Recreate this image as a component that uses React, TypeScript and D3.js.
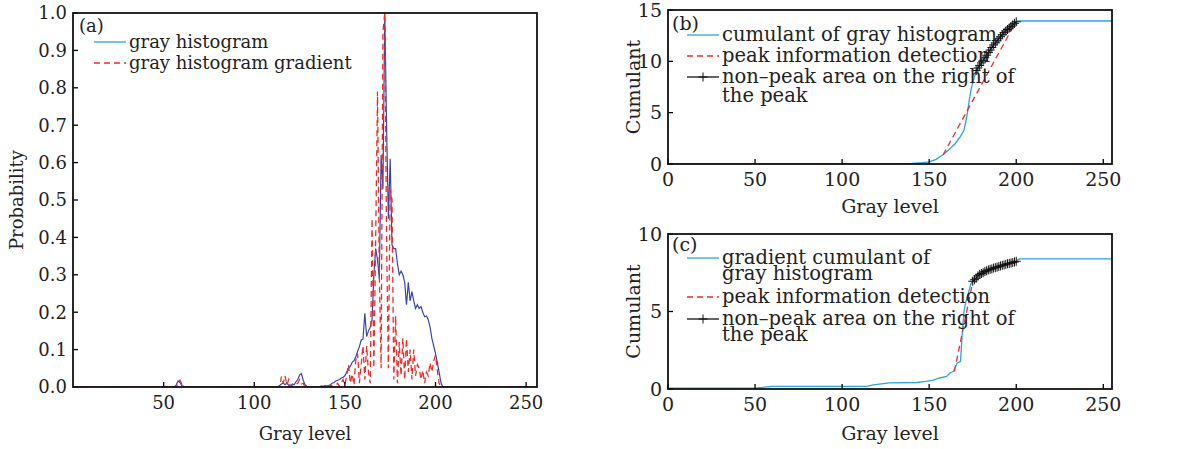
import React from "react";
import * as d3 from "d3";

// ---------- DATA ----------
// Panel (a): gray histogram (probability, normalised)
const histGray = [0, 56, 57, 58, 59, 60, 61, 62, 113, 114, 115, 116, 117, 118, 119, 120, 121, 122, 123, 124, 125, 126, 127, 128, 129, 130, 136, 137, 138, 139, 140, 141, 142, 143, 144, 145, 146, 147, 148, 149, 150, 151, 152, 153, 154, 155, 156, 157, 158, 159, 160, 161, 162, 163, 164, 165, 166, 167, 168, 169, 170, 171, 172, 173, 174, 175, 176, 177, 178, 179, 180, 181, 182, 183, 184, 185, 186, 187, 188, 189, 190, 191, 192, 193, 194, 195, 196, 197, 198, 199, 200, 201, 202, 203, 204, 255];
const histProb = [0, 0, 0.006, 0.016, 0.012, 0.004, 0.002, 0, 0, 0.004, 0.008, 0.01, 0.006, 0.012, 0.004, 0.002, 0.008, 0.006, 0.014, 0.02, 0.032, 0.036, 0.018, 0.006, 0.002, 0, 0, 0.003, 0.002, 0.004, 0.003, 0.004, 0.006, 0.01, 0.012, 0.016, 0.018, 0.02, 0.024, 0.026, 0.03, 0.04, 0.05, 0.055, 0.066, 0.07, 0.08, 0.095, 0.108, 0.125, 0.128, 0.197, 0.135, 0.15, 0.16, 0.18, 0.3, 0.37, 0.34, 0.29, 0.62, 0.53, 1.0, 0.7, 0.45, 0.61, 0.38, 0.37, 0.37, 0.33, 0.3, 0.31, 0.3, 0.28, 0.22, 0.28, 0.23, 0.255, 0.23, 0.21, 0.22, 0.21, 0.215, 0.2, 0.188, 0.19, 0.18, 0.16, 0.13, 0.11, 0.09, 0.065, 0.04, 0.012, 0, 0];

// Panel (a): gray histogram gradient
const gradGray = [0, 57, 58, 59, 60, 61, 114, 115, 116, 117, 118, 119, 120, 124, 125, 126, 127, 128, 140, 142, 144, 146, 147, 149, 150, 151, 152, 153, 154, 155, 156, 157, 158, 159, 160, 161, 162, 163, 164, 165, 166, 167, 168, 169, 170, 171, 172, 173, 174, 175, 176, 177, 178, 179, 180, 181, 182, 183, 184, 185, 186, 187, 188, 189, 190, 191, 192, 193, 194, 195, 196, 197, 198, 199, 200, 201, 202, 203, 255];
const gradProb = [0, 0, 0.012, 0.018, 0.008, 0, 0, 0.028, 0.01, 0.03, 0.005, 0.02, 0, 0.01, 0.02, 0.008, 0.01, 0, 0, 0.005, 0, 0.01, 0.002, 0.02, 0.005, 0.03, 0.06, 0.01, 0.035, 0.005, 0.07, 0.09, 0.01, 0.06, 0.11, 0.02, 0.11, 0.04, 0.01, 0.45, 0.05, 0.4, 0.79, 0.3, 0.05, 0.95, 1.0, 0.4, 0.05, 0.53, 0.5, 0.02, 0.19, 0.01, 0.12, 0.03, 0.13, 0.02, 0.13, 0.04, 0.1, 0.02, 0.1, 0.03, 0.06, 0.05, 0.02, 0.045, 0.01, 0.04, 0.03, 0.065, 0.04, 0.07, 0.085, 0.045, 0.01, 0, 0];

// Panel (b): cumulant of gray histogram
const cumBGray = [0, 120, 130, 140, 146, 150, 154, 158, 162, 165, 168, 170, 171, 172, 173, 174, 175, 176];
const cumBVal = [0, 0, 0.02, 0.06, 0.12, 0.2, 0.45, 0.9, 1.5, 2.0, 2.7, 3.3, 4.1, 5.0, 6.2, 7.2, 7.9, 8.5];
const nonPeakBGray = [177, 178, 179, 180, 181, 182, 183, 184, 185, 186, 187, 188, 189, 190, 191, 192, 193, 194, 195, 196, 197, 198, 199, 200];
const nonPeakBVal = [9.1, 9.35, 9.6, 9.85, 10.1, 10.35, 10.6, 10.85, 11.1, 11.35, 11.6, 11.8, 12.0, 12.2, 12.4, 12.6, 12.8, 12.95, 13.1, 13.25, 13.4, 13.55, 13.7, 13.85];
const tailBGray = [201, 255];
const tailBVal = [13.93, 13.93];
const peakBGray = [158, 198];
const peakBVal = [0.9, 13.3];

// Panel (c): gradient cumulant of gray histogram
const cumCGray = [0, 50, 60, 114, 118, 127, 143, 148, 152, 156, 160, 162, 164, 166, 168, 169, 170, 171, 172, 173, 174];
const cumCVal = [0.06, 0.06, 0.17, 0.17, 0.27, 0.39, 0.42, 0.49, 0.56, 0.71, 0.81, 1.03, 1.14, 1.67, 1.78, 3.6, 5.0, 5.6, 5.96, 6.4, 6.8];
const nonPeakCGray = [175, 176, 177, 178, 179, 180, 181, 182, 183, 184, 185, 186, 187, 188, 189, 190, 191, 192, 193, 194, 195, 196, 197, 198, 199, 200];
const nonPeakCVal = [6.95, 7.05, 7.15, 7.3, 7.4, 7.45, 7.5, 7.58, 7.63, 7.68, 7.72, 7.75, 7.8, 7.83, 7.86, 7.9, 7.94, 7.98, 8.0, 8.04, 8.08, 8.1, 8.13, 8.16, 8.2, 8.24];
const tailCGray = [201, 202, 255];
const tailCVal = [8.35, 8.4, 8.4];
const peakCGray = [164.5, 175];
const peakCVal = [1.14, 6.9];

const ticksA_x = [50, 100, 150, 200, 250];
const ticksA_y = [0, 0.1, 0.2, 0.3, 0.4, 0.5, 0.6, 0.7, 0.8, 0.9, 1.0];
const ticksBC_x = [0, 50, 100, 150, 200, 250];
const ticksB_y = [0, 5, 10, 15];
const ticksC_y = [0, 5, 10];

// ---------- STYLE ----------
const FONT = "DejaVu Serif";
const LIGHT_BLUE = "#2ea2e2";
const DARK_BLUE = "#3a46a6";
const RED = "#ee2b2b";
const DASH = "6,4";
const TXT = "#222";

const zip = (xs: number[], ys: number[]) => xs.map((x, i) => [x, ys[i]] as [number, number]);

type Box = { left: number; top: number; right: number; bottom: number };

function Frame({ box, xs, ys, xScale, yScale, fmtY, fs, xOff }: any) {
  const tl = 5;
  return (
    <g>
      {xs.map((t: number) => (
        <g key={"x" + t}>
          <line x1={xScale(t)} x2={xScale(t)} y1={box.bottom} y2={box.bottom - tl} stroke="#000" strokeWidth={1.3} />
          <text x={xScale(t)} y={box.bottom + xOff} textAnchor="middle" fontFamily={FONT} fontSize={fs} fill={TXT}>{t}</text>
        </g>
      ))}
      {ys.map((t: number) => (
        <g key={"y" + t}>
          <line x1={box.left} x2={box.left + tl} y1={yScale(t)} y2={yScale(t)} stroke="#000" strokeWidth={1.3} />
          <text x={box.left - 6} y={yScale(t)} dy="0.35em" textAnchor="end" fontFamily={FONT} fontSize={fs} fill={TXT}>{fmtY(t)}</text>
        </g>
      ))}
      <rect x={box.left} y={box.top} width={box.right - box.left} height={box.bottom - box.top} fill="none" stroke="#111" strokeWidth={1.8} />
    </g>
  );
}

function Plus({ x, y }: { x: number; y: number }) {
  const s = 4.5;
  return (
    <g stroke="#111" strokeWidth={1}>
      <line x1={x - s} x2={x + s} y1={y} y2={y} />
      <line x1={x} x2={x} y1={y - s} y2={y + s} />
    </g>
  );
}

function Legend({ x, rows, fs, gap }: { x: number; rows: any[]; fs: number; gap: number }) {
  return (
    <g>
      {rows.map((r, i) => (
        <g key={i}>
          <line x1={x} x2={x + 32} y1={r.y} y2={r.y} stroke={r.color} strokeWidth={1.3} strokeDasharray={r.kind === "dash" ? DASH : undefined} />
          {r.kind === "plus" && <Plus x={x + 16} y={r.y} />}
          {r.lines.map((t: string, j: number) => (
            <text key={j} x={x + 35} y={r.y + 5.5 + j * gap} fontFamily={FONT} fontSize={fs} fill={TXT}>{t}</text>
          ))}
        </g>
      ))}
    </g>
  );
}

export default function App() {
  // Panel A
  const A: Box = { left: 73, top: 13, right: 537, bottom: 387 };
  const xA = d3.scaleLinear().domain([0, 256]).range([A.left, A.right]);
  const yA = d3.scaleLinear().domain([0, 1]).range([A.bottom, A.top]);
  const lineA = d3.line<[number, number]>().x((d) => xA(d[0])).y((d) => yA(d[1]));

  // Panel B
  const B: Box = { left: 668, top: 10, right: 1112, bottom: 164 };
  const xB = d3.scaleLinear().domain([0, 255]).range([B.left, B.right]);
  const yB = d3.scaleLinear().domain([0, 15]).range([B.bottom, B.top]);
  const lineB = d3.line<[number, number]>().x((d) => xB(d[0])).y((d) => yB(d[1]));

  // Panel C
  const C: Box = { left: 668, top: 234, right: 1112, bottom: 389 };
  const xC = d3.scaleLinear().domain([0, 255]).range([C.left, C.right]);
  const yC = d3.scaleLinear().domain([0, 10]).range([C.bottom, C.top]);
  const lineC = d3.line<[number, number]>().x((d) => xC(d[0])).y((d) => yC(d[1]));

  const bFull = [...zip(cumBGray, cumBVal), ...zip(nonPeakBGray, nonPeakBVal), ...zip(tailBGray, tailBVal)];
  const bNP = zip(nonPeakBGray, nonPeakBVal);
  const cFull = [...zip(cumCGray, cumCVal), ...zip(nonPeakCGray, nonPeakCVal), ...zip(tailCGray, tailCVal)];
  const cNP = zip(nonPeakCGray, nonPeakCVal);

  const FA = 18;
  const FB = 19;
  const FL = 19.5;

  return (
    <svg width={1198} height={449} style={{ position: "absolute", left: 0, top: 0, background: "#fff" }}>
      <defs>
        <clipPath id="clipA"><rect x={A.left} y={A.top} width={A.right - A.left} height={A.bottom - A.top} /></clipPath>
        <clipPath id="clipB"><rect x={B.left} y={B.top} width={B.right - B.left} height={B.bottom - B.top} /></clipPath>
        <clipPath id="clipC"><rect x={C.left} y={C.top} width={C.right - C.left} height={C.bottom - C.top} /></clipPath>
      </defs>
      <rect width={1198} height={449} fill="#fff" />

      {/* Panel (a) */}
      <g clipPath="url(#clipA)">
        <path d={lineA(zip(histGray, histProb)) || ""} fill="none" stroke={DARK_BLUE} strokeWidth={1.2} />
        <path d={lineA(zip(gradGray, gradProb)) || ""} fill="none" stroke={RED} strokeWidth={1.3} strokeDasharray={DASH} />
      </g>
      <Frame box={A} xs={ticksA_x} ys={ticksA_y} xScale={xA} yScale={yA} fmtY={(t: number) => t.toFixed(1)} fs={FA} xOff={22} />
      <text x={79} y={32} fontFamily={FONT} fontSize={FA} fill={TXT}>(a)</text>
      <Legend x={94} fs={FA} gap={18} rows={[
        { kind: "solid", color: LIGHT_BLUE, y: 42, lines: ["gray histogram"] },
        { kind: "dash", color: RED, y: 63, lines: ["gray histogram gradient"] },
      ]} />
      <text x={(A.left + A.right) / 2} y={440} textAnchor="middle" fontFamily={FONT} fontSize={FA} fill={TXT}>Gray level</text>
      <text transform={`translate(23,${(A.top + A.bottom) / 2}) rotate(-90)`} textAnchor="middle" fontFamily={FONT} fontSize={FA} fill={TXT}>Probability</text>

      {/* Panel (b) */}
      <g clipPath="url(#clipB)">
        <path d={lineB(bFull) || ""} fill="none" stroke={LIGHT_BLUE} strokeWidth={1.3} />
        <path d={lineB(zip(peakBGray, peakBVal)) || ""} fill="none" stroke={RED} strokeWidth={1.3} strokeDasharray={DASH} />
        <path d={lineB(bNP) || ""} fill="none" stroke="#111" strokeWidth={1} />
        {bNP.map((d, i) => <Plus key={i} x={xB(d[0])} y={yB(d[1])} />)}
      </g>
      <Frame box={B} xs={ticksBC_x} ys={ticksB_y} xScale={xB} yScale={yB} fmtY={(t: number) => String(t)} fs={FB} xOff={22} />
      <text x={672} y={30} fontFamily={FONT} fontSize={FB} fill={TXT}>(b)</text>
      <Legend x={687} fs={FL} gap={19} rows={[
        { kind: "solid", color: LIGHT_BLUE, y: 35, lines: ["cumulant of gray histogram"] },
        { kind: "dash", color: RED, y: 56, lines: ["peak information detection"] },
        { kind: "plus", color: "#111", y: 77, lines: ["non\u2013peak area on the right of", "the peak"] },
      ]} />
      <text x={(B.left + B.right) / 2} y={213} textAnchor="middle" fontFamily={FONT} fontSize={FB} fill={TXT}>Gray level</text>
      <text transform={`translate(640,${(B.top + B.bottom) / 2}) rotate(-90)`} textAnchor="middle" fontFamily={FONT} fontSize={FB} fill={TXT}>Cumulant</text>

      {/* Panel (c) */}
      <g clipPath="url(#clipC)">
        <path d={lineC(cFull) || ""} fill="none" stroke={LIGHT_BLUE} strokeWidth={1.3} />
        <path d={lineC(zip(peakCGray, peakCVal)) || ""} fill="none" stroke={RED} strokeWidth={1.3} strokeDasharray={DASH} />
        <path d={lineC(cNP) || ""} fill="none" stroke="#111" strokeWidth={1} />
        {cNP.map((d, i) => <Plus key={i} x={xC(d[0])} y={yC(d[1])} />)}
      </g>
      <Frame box={C} xs={ticksBC_x} ys={ticksC_y} xScale={xC} yScale={yC} fmtY={(t: number) => String(t)} fs={FB} xOff={22} />
      <text x={672} y={251} fontFamily={FONT} fontSize={FB} fill={TXT}>(c)</text>
      <Legend x={687} fs={FL} gap={16} rows={[
        { kind: "solid", color: LIGHT_BLUE, y: 258, lines: ["gradient cumulant of", "gray histogram"] },
        { kind: "dash", color: RED, y: 297, lines: ["peak information detection"] },
        { kind: "plus", color: "#111", y: 319, lines: ["non\u2013peak area on the right of", "the peak"] },
      ]} />
      <text x={(C.left + C.right) / 2} y={440} textAnchor="middle" fontFamily={FONT} fontSize={FB} fill={TXT}>Gray level</text>
      <text transform={`translate(640,${(C.top + C.bottom) / 2}) rotate(-90)`} textAnchor="middle" fontFamily={FONT} fontSize={FB} fill={TXT}>Cumulant</text>
    </svg>
  );
}
